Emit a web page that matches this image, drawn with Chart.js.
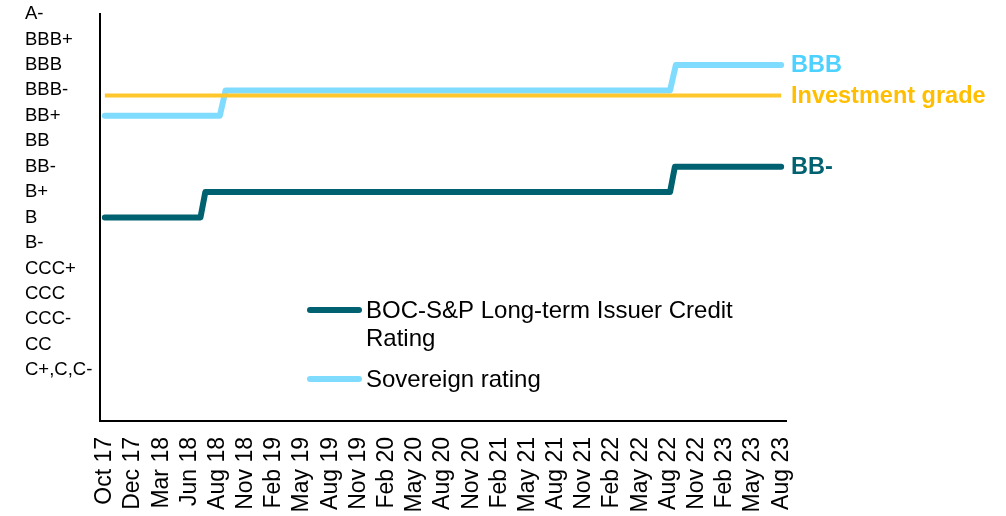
<!DOCTYPE html>
<html>
<head>
<meta charset="utf-8">
<script src="https://cdn.jsdelivr.net/npm/chart.js@4.4.1/dist/chart.umd.min.js"></script>
<style>
  html, body { margin: 0; padding: 0; background: #fff; }
  #wrap { width: 1006px; height: 516px; position: relative; }
</style>
</head>
<body>
<div id="wrap"><canvas id="ratingChart"></canvas></div>
<script>
// Rating scale, lowest first (index = level on the y axis)
const ratingLabels = ['C+,C,C-', 'CC', 'CCC-', 'CCC', 'CCC+', 'B-', 'B', 'B+',
                      'BB-', 'BB', 'BB+', 'BBB-', 'BBB', 'BBB+', 'A-'];

// Axis labels, evenly spaced from Oct 17 (month 0) to Aug 23 (month 70)
const xLabels = ['Oct 17', 'Dec 17', 'Mar 18', 'Jun 18', 'Aug 18', 'Nov 18', 'Feb 19',
                 'May 19', 'Aug 19', 'Nov 19', 'Feb 20', 'May 20', 'Aug 20', 'Nov 20',
                 'Feb 21', 'May 21', 'Aug 21', 'Nov 21', 'Feb 22', 'May 22', 'Aug 22',
                 'Nov 22', 'Feb 23', 'May 23', 'Aug 23'];
const lastMonth = 70;

// BOC long-term issuer rating (months since Oct 2017)
const bocMonths  = [0, 9.9, 10.4, 58.5, 59, 70];
const bocRatings = ['B', 'B', 'B+', 'B+', 'BB-', 'BB-'];

// Sovereign rating
const sovMonths  = [0, 11.9, 12.5, 58.5, 59.1, 70];
const sovRatings = ['BB+', 'BB+', 'BBB-', 'BBB-', 'BBB', 'BBB'];

// Investment grade threshold
const igMonths = [0, 70];
const igLevel  = 10.8;

const FONT = "'Liberation Sans', Arial, sans-serif";
const TEAL = '#006170';
const SKY  = '#80DCFF';
const GOLD = '#FFC72C';

function toPoints(months, ratings) {
    return months.map((m, i) => ({ x: m, y: ratingLabels.indexOf(ratings[i]) }));
}

/* Bold label at the right end of each line */
const endLabels = {
    id: 'endLabels',
    afterDatasetsDraw(chart) {
        const ctx = chart.ctx;
        ctx.save();
        ctx.font = 'bold 23.5px ' + FONT;
        ctx.textAlign = 'left';
        ctx.textBaseline = 'middle';
        chart.data.datasets.forEach((ds, i) => {
            if (!ds.endLabel) return;
            const pts = chart.getDatasetMeta(i).data;
            const last = pts[pts.length - 1];
            ctx.fillStyle = ds.endColor;
            ctx.fillText(ds.endLabel, chart.chartArea.right + 5, last.y + 1);
        });
        ctx.restore();
    }
};

/* Legend drawn inside the plot area */
const innerLegend = {
    id: 'innerLegend',
    afterDraw(chart) {
        const ctx = chart.ctx;
        const area = chart.chartArea;
        const x0 = area.left + 207;
        let y = area.top + 296;
        const lineH = 28.5;
        ctx.save();
        ctx.font = '24px ' + FONT;
        ctx.textBaseline = 'middle';
        ctx.textAlign = 'left';
        chart.data.datasets.forEach(ds => {
            if (!ds.inLegend) return;
            ctx.strokeStyle = ds.borderColor;
            ctx.lineWidth = 6;
            ctx.lineCap = 'round';
            ctx.beginPath();
            ctx.moveTo(x0 + 3, y);
            ctx.lineTo(x0 + 52, y);
            ctx.stroke();

            // wrap the label to the legend width
            const words = ds.label.split(' ');
            const lines = [];
            let cur = '';
            words.forEach(w => {
                const test = cur ? cur + ' ' + w : w;
                if (ctx.measureText(test).width > 380 && cur) {
                    lines.push(cur);
                    cur = w;
                } else {
                    cur = test;
                }
            });
            lines.push(cur);

            ctx.fillStyle = '#000';
            lines.forEach((ln, k) => ctx.fillText(ln, x0 + 59, y + 1 + k * lineH));
            y += lines.length * lineH + 12;
        });
        ctx.restore();
    }
};

Chart.defaults.color = '#000';
Chart.defaults.font.family = FONT;

new Chart(document.getElementById('ratingChart'), {
    type: 'line',
    data: {
        datasets: [
            {
                label: 'Investment grade',
                data: igMonths.map(m => ({ x: m, y: igLevel })),
                borderColor: GOLD,
                borderWidth: 4,
                borderCapStyle: 'butt',
                pointRadius: 0,
                endLabel: 'Investment grade',
                endColor: '#FFBF00',
                inLegend: false
            },
            {
                label: 'BOC-S&P Long-term Issuer Credit Rating',
                data: toPoints(bocMonths, bocRatings),
                borderColor: TEAL,
                borderWidth: 6,
                borderCapStyle: 'round',
                borderJoinStyle: 'round',
                pointRadius: 0,
                endLabel: bocRatings[bocRatings.length - 1],
                endColor: TEAL,
                inLegend: true
            },
            {
                label: 'Sovereign rating',
                data: toPoints(sovMonths, sovRatings),
                borderColor: SKY,
                borderWidth: 6,
                borderCapStyle: 'round',
                borderJoinStyle: 'round',
                pointRadius: 0,
                endLabel: sovRatings[sovRatings.length - 1],
                endColor: '#4DD2FF',
                inLegend: true
            }
        ]
    },
    options: {
        responsive: true,
        maintainAspectRatio: false,
        animation: false,
        layout: { padding: { left: 25, right: 220, top: 12, bottom: 0 } },
        plugins: {
            legend: { display: false },
            tooltip: { enabled: false }
        },
        scales: {
            x: {
                type: 'linear',
                min: -0.5,
                max: lastMonth + 0.5,
                grid: { display: false, drawTicks: false },
                border: { display: true, color: '#000', width: 2 },
                afterBuildTicks: scale => {
                    scale.ticks = xLabels.map((_, i) => ({ value: i * lastMonth / (xLabels.length - 1) }));
                },
                afterFit: scale => { scale.height = 95; },
                ticks: {
                    autoSkip: false,
                    minRotation: 90,
                    maxRotation: 90,
                    padding: 16,
                    font: { size: 23 },
                    callback: (v, i) => xLabels[i]
                }
            },
            y: {
                type: 'linear',
                min: -2,
                max: ratingLabels.length - 1,
                grid: { display: false, drawTicks: false },
                border: { display: true, color: '#000', width: 2 },
                afterBuildTicks: scale => {
                    scale.ticks = ratingLabels.map((_, i) => ({ value: i }));
                },
                afterFit: scale => { scale.width = 75; },
                ticks: {
                    crossAlign: 'far',
                    font: { size: 18.5 },
                    callback: v => ratingLabels[v]
                }
            }
        }
    },
    plugins: [endLabels, innerLegend]
});
</script>
</body>
</html>
